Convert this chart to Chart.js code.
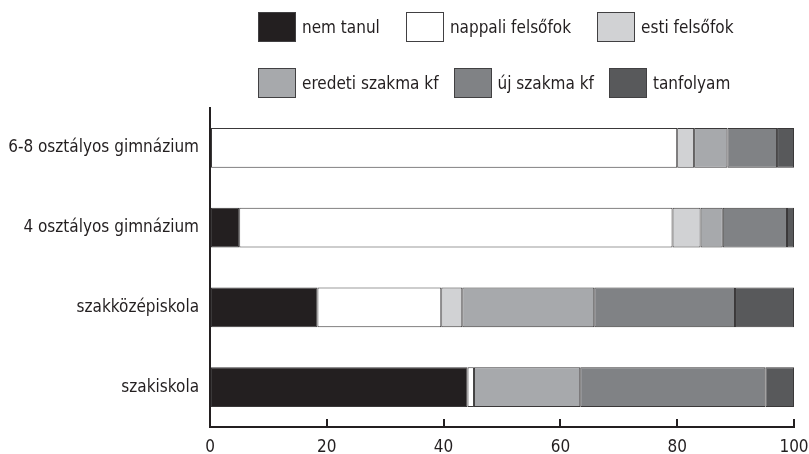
<!DOCTYPE html>
<html lang="hu">
<head>
<meta charset="UTF-8">
<title>Továbbtanulás iskolatípus szerint</title>
<script src="https://cdn.jsdelivr.net/npm/chart.js"></script>
<style>
  body { margin: 0; background: #fff; }
  .wrap { position: relative; width: 809px; height: 454px; }
  .legend { position: absolute; left: 258px; top: 0; font-family: "DejaVu Sans Condensed", "Liberation Sans", sans-serif; font-size: 17px; color: #231f20; }
  .legend .row { display: flex; align-items: center; height: 30px; white-space: nowrap; }
  .legend .row1 { margin-top: 12px; gap: 26px; }
  .legend .row2 { margin-top: 26px; gap: 15px; }
  .legend .item { display: flex; align-items: center; }
  .legend .box { width: 36px; height: 28px; border: 1px solid #414042; margin-right: 6px; }
</style>
</head>
<body>
<div class="wrap">
  <canvas id="chart" width="809" height="454"></canvas>
  <div class="legend" id="legend"></div>
</div>
<script>
const categories = ["6-8 osztályos gimnázium", "4 osztályos gimnázium", "szakközépiskola", "szakiskola"];
const seriesNames = ["nem tanul", "nappali felsőfok", "esti felsőfok", "eredeti szakma kf", "új szakma kf", "tanfolyam"];
const nemTanul  = [0, 5.0, 18.4, 44.1];
const nappali   = [80.0, 74.2, 21.2, 1.1];
const esti      = [2.9, 4.8, 3.6, 0];
const eredeti   = [5.7, 3.8, 22.6, 18.2];
const ujSzakma  = [8.5, 11.0, 24.1, 31.7];
const tanfolyam = [2.9, 1.2, 10.1, 4.9];
const xTicks = [0, 20, 40, 60, 80, 100];

const colors = ["#231f20", "#ffffff", "#d1d2d4", "#a7a9ac", "#808285", "#58595b"];
const values = [nemTanul, nappali, esti, eredeti, ujSzakma, tanfolyam];
const font = "'DejaVu Sans Condensed', 'Liberation Sans', sans-serif";

const datasets = seriesNames.map((name, i) => ({
  label: name,
  data: values[i],
  backgroundColor: colors[i],
  borderColor: "#3a3839",
  borderWidth: 1,
  borderSkipped: false,
  categoryPercentage: 1,
  barPercentage: 0.5
}));

const chart = new Chart(document.getElementById("chart"), {
  type: "bar",
  data: { labels: categories, datasets: datasets },
  options: {
    responsive: false,
    animation: false,
    indexAxis: "y",
    layout: { padding: { top: 108, right: 0, bottom: 0, left: 0 } },
    plugins: { legend: { display: false }, tooltip: { enabled: false } },
    scales: {
      x: {
        stacked: true,
        min: 0,
        max: 100,
        afterBuildTicks: (scale) => { scale.ticks = xTicks.map(v => ({ value: v })); },
        afterFit: (scale) => { scale.height = 27; scale.paddingLeft = 0; scale.paddingRight = 15; },
        grid: { drawOnChartArea: false, tickLength: -8, color: "#231f20", lineWidth: 2 },
        border: { display: true, color: "#231f20", width: 2 },
        ticks: { padding: 18, color: "#231f20", font: { family: font, size: 17 } }
      },
      y: {
        stacked: true,
        afterFit: (scale) => { scale.width = 210; },
        grid: { display: false },
        border: { display: true, color: "#231f20", width: 2 },
        ticks: { padding: 3, color: "#231f20", font: { family: font, size: 17 } }
      }
    }
  }
});

// legenda két sorban, a datasetekből
const rows = [[0, 1, 2], [3, 4, 5]];
const legend = document.getElementById("legend");
rows.forEach((r, k) => {
  const row = document.createElement("div");
  row.className = "row row" + (k + 1);
  r.forEach(i => {
    const ds = chart.data.datasets[i];
    const item = document.createElement("div");
    item.className = "item";
    const box = document.createElement("span");
    box.className = "box";
    box.style.background = ds.backgroundColor;
    const txt = document.createElement("span");
    txt.textContent = ds.label;
    item.appendChild(box);
    item.appendChild(txt);
    row.appendChild(item);
  });
  legend.appendChild(row);
});
</script>
</body>
</html>
